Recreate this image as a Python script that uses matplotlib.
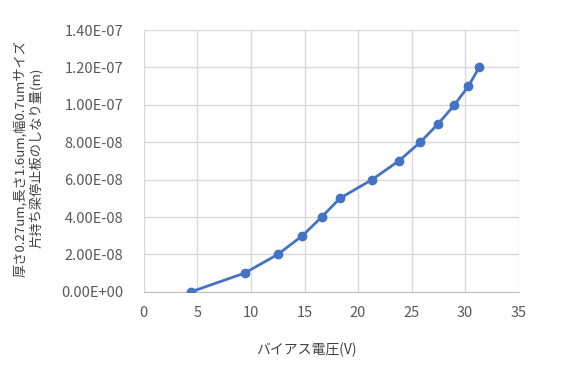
import numpy as np
import matplotlib.pyplot as plt
from matplotlib.ticker import FuncFormatter

plt.rcParams['font.family'] = ['Noto Sans CJK JP', 'DejaVu Sans']

# bias voltage (V) and deflection (m)
voltage = [4.4, 9.4, 12.5, 14.8, 16.6, 18.3, 21.3, 23.8, 25.8, 27.5, 29.0, 30.3, 31.3]
deflection = [0.0, 1.0e-8, 2.0e-8, 3.0e-8, 4.0e-8, 5.0e-8, 6.0e-8, 7.0e-8,
              8.0e-8, 9.0e-8, 1.0e-7, 1.1e-7, 1.2e-7]

x_ticks = [0, 5, 10, 15, 20, 25, 30, 35]
y_ticks = [0, 2e-8, 4e-8, 6e-8, 8e-8, 1e-7, 1.2e-7, 1.4e-7]

x_label = "バイアス電圧(V)"
y_label = "厚さ0.27um,長さ1.6um,幅0.7umサイズ\n片持ち梁停止板のしなり量(m)"

fig = plt.figure(figsize=(5.62, 3.86), dpi=100)
ax = fig.add_axes([0.256, 0.244, 0.667, 0.678])

ax.plot(voltage, deflection, color='#4472C4', linewidth=2, marker='o',
        markersize=6, zorder=3)

ax.set_xlim(0, 35)
ax.set_ylim(0, 1.4e-7)
ax.set_xticks(x_ticks)
ax.set_yticks(y_ticks)

def sci_fmt(v, pos):
    s = "%.2E" % v
    mant, exp = s.split("E")
    return "%sE%s%02d" % (mant, exp[0], abs(int(exp)))

ax.yaxis.set_major_formatter(FuncFormatter(sci_fmt))

ax.grid(True, color='#D9D9D9', linewidth=1)
ax.set_axisbelow(True)
for s in ['top', 'right', 'left']:
    ax.spines[s].set_visible(False)
ax.spines['bottom'].set_color('#BFBFBF')
ax.tick_params(length=0, labelsize=10.5, labelcolor='#595959')
ax.tick_params(axis='y', pad=15)
ax.tick_params(axis='x', pad=10)

fig.text(0.546, 0.093, x_label, ha='center', va='center', fontsize=10, color='#404040')
fig.text(0.05, 0.59, y_label, ha='center', va='center', rotation=90,
         fontsize=9.5, color='#404040', linespacing=1.15)

fig.savefig("out.png", dpi=100)
